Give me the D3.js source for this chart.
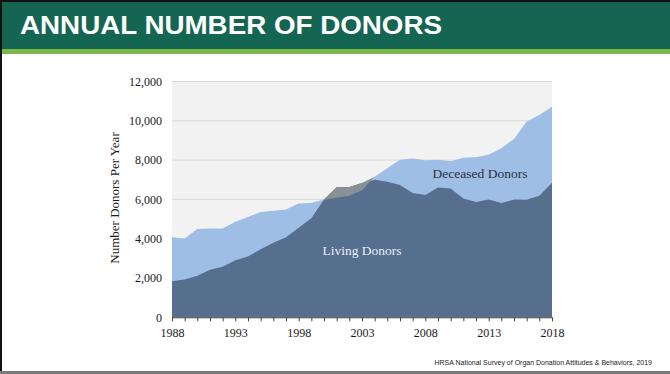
<!DOCTYPE html>
<html>
<head>
<meta charset="utf-8">
<script src="https://cdn.jsdelivr.net/npm/d3@7"></script>
<style>
  body { margin: 0; background: #fff; }
  svg { display: block; }
</style>
</head>
<body>
<div id="chart"></div>
<script>
// data
var years = d3.range(1988, 2019);
var deceased = [4080, 4010, 4500, 4520, 4520, 4860, 5100, 5360, 5420, 5480,
                5790, 5820, 5985, 6080, 6190, 6460, 7150, 7590, 8020, 8085,
                7990, 8020, 7945, 8125, 8145, 8270, 8600, 9080, 9970, 10290, 10720];
var living = [1830, 1920, 2120, 2420, 2570, 2900, 3100, 3460, 3790, 4070,
              4560, 5040, 5990, 6620, 6630, 6830, 7000, 6900, 6730, 6320,
              6220, 6610, 6560, 6040, 5870, 5990, 5820, 5990, 5980, 6180, 6850];
var yTicks = [0, 2000, 4000, 6000, 8000, 10000, 12000];
var xTicks = [1988, 1993, 1998, 2003, 2008, 2013, 2018];

var W = 670, H = 374;
var serif = "Liberation Serif, Times New Roman, serif";
var svg = d3.select("#chart").append("svg")
    .attr("width", W)
    .attr("height", H);

// slide frame + header
svg.append("rect").attr("x", 0).attr("y", 0).attr("width", W).attr("height", 2).attr("fill", "#111");
svg.append("rect").attr("x", 0).attr("y", 0).attr("width", 2).attr("height", H).attr("fill", "#111");
svg.append("rect").attr("x", 2).attr("y", 2).attr("width", W - 2).attr("height", 47).attr("fill", "#156553");
svg.append("rect").attr("x", 2).attr("y", 49).attr("width", W - 2).attr("height", 5).attr("fill", "#7bb84a");
svg.append("rect").attr("x", 0).attr("y", 371).attr("width", W).attr("height", 3).attr("fill", "#7a7a7a");

svg.append("text")
    .attr("x", 20)
    .attr("y", 34)
    .attr("fill", "#fff")
    .attr("textLength", 422)
    .attr("lengthAdjust", "spacingAndGlyphs")
    .style("font-family", "Liberation Sans, Arial, sans-serif")
    .style("font-weight", "bold")
    .style("font-size", "26px")
    .text("ANNUAL NUMBER OF DONORS");

svg.append("text")
    .attr("x", 652)
    .attr("y", 365)
    .attr("text-anchor", "end")
    .attr("fill", "#222")
    .style("font-family", "Liberation Sans, Arial, sans-serif")
    .style("font-size", "7px")
    .text("HRSA National Survey of Organ Donation Attitudes & Behaviors, 2019");

// plot
var x = d3.scaleLinear().domain([1988, 2018]).range([172, 552]);
var y = d3.scaleLinear().domain([0, 12000]).range([317.3, 81.5]);

var g = svg.append("g");

g.append("rect")
    .attr("x", x(1988)).attr("y", y(12000))
    .attr("width", x(2018) - x(1988)).attr("height", y(0) - y(12000))
    .attr("fill", "#f2f2f2");

g.selectAll(".grid")
    .data(yTicks.slice(1))
    .enter().append("line")
    .attr("class", "grid")
    .attr("x1", x(1988)).attr("x2", x(2018))
    .attr("y1", function(d) { return y(d); })
    .attr("y2", function(d) { return y(d); })
    .attr("stroke", "#d9d9d9")
    .attr("stroke-width", 1);

var rows = years.map(function(yr, i) { return { year: yr, dec: deceased[i], liv: living[i] }; });

var decArea = d3.area()
    .x(function(d) { return x(d.year); })
    .y0(y(0))
    .y1(function(d) { return y(d.dec); });

var livArea = d3.area()
    .x(function(d) { return x(d.year); })
    .y0(y(0))
    .y1(function(d) { return y(d.liv); });

// part of living that pokes out above deceased
var overArea = d3.area()
    .x(function(d) { return x(d.year); })
    .y0(function(d) { return y(d.dec); })
    .y1(function(d) { return y(Math.max(d.dec, d.liv)); });

g.append("path").datum(rows).attr("d", decArea).attr("fill", "#9ebee6");
g.append("path").datum(rows).attr("d", livArea).attr("fill", "#566f8f");
g.append("path").datum(rows).attr("d", overArea).attr("fill", "#8a9097");

// axes
var yAxis = d3.axisLeft(y).tickValues(yTicks).tickSize(0).tickPadding(10)
    .tickFormat(d3.format(","));
var yg = svg.append("g")
    .attr("transform", "translate(" + x(1988) + ",0)")
    .call(yAxis);
yg.select(".domain").remove();

var xAxis = d3.axisBottom(x).tickValues(years).tickSize(4).tickSizeOuter(0)
    .tickFormat(function(d) { return xTicks.indexOf(d) >= 0 ? d : ""; });
var xg = svg.append("g")
    .attr("transform", "translate(0," + y(0) + ")")
    .call(xAxis);
xg.select(".domain").attr("stroke", "#444");
xg.selectAll(".tick line").attr("stroke", "#444");

svg.selectAll(".tick text")
    .attr("fill", "#1a1a1a")
    .style("font-family", serif)
    .style("font-size", "12px");
xg.selectAll(".tick text").attr("dy", "1.05em");

svg.append("text")
    .attr("transform", "translate(119,198) rotate(-90)")
    .attr("text-anchor", "middle")
    .attr("fill", "#1a1a1a")
    .style("font-family", serif)
    .style("font-size", "13px")
    .text("Number Donors Per Year");

svg.append("text")
    .attr("x", 480).attr("y", 178)
    .attr("text-anchor", "middle")
    .attr("fill", "#2a3340")
    .style("font-family", serif)
    .style("font-size", "13.5px")
    .text("Deceased Donors");

svg.append("text")
    .attr("x", 362).attr("y", 255)
    .attr("text-anchor", "middle")
    .attr("fill", "#e8eef6")
    .style("font-family", serif)
    .style("font-size", "13.5px")
    .text("Living Donors");
</script>
</body>
</html>
